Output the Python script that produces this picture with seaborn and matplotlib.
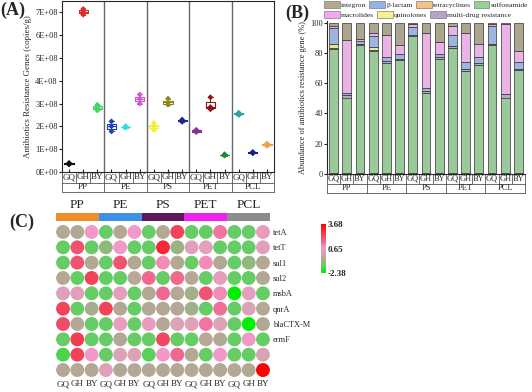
import numpy as np
import pandas as pd
import matplotlib
matplotlib.use('Agg')
import matplotlib.pyplot as plt
import matplotlib.transforms as mtransforms
from matplotlib.colors import LinearSegmentedColormap, Normalize
from matplotlib.patches import Patch
import seaborn as sns

# ---------------- data ----------------
groups = ['PP', 'PE', 'PS', 'PET', 'PCL']
sites = ['GQ', 'GH', 'BY']
samples = [f'{g} {s}' for g in groups for s in sites]

# (A) ARG abundance, three replicates per sample (copies/g)
arg_reps = {
    'PP GQ': [0.33e8, 0.36e8, 0.40e8],
    'PP GH': [6.90e8, 7.02e8, 7.15e8],
    'PP BY': [2.70e8, 2.82e8, 2.95e8],
    'PE GQ': [1.78e8, 2.00e8, 2.22e8],
    'PE GH': [1.94e8, 1.97e8, 2.01e8],
    'PE BY': [3.00e8, 3.20e8, 3.40e8],
    'PS GQ': [1.85e8, 2.00e8, 2.15e8],
    'PS GH': [2.95e8, 3.05e8, 3.22e8],
    'PS BY': [2.20e8, 2.25e8, 2.30e8],
    'PET GQ': [1.75e8, 1.80e8, 1.85e8],
    'PET GH': [2.75e8, 2.85e8, 3.28e8],
    'PET BY': [0.72e8, 0.75e8, 0.78e8],
    'PCL GQ': [2.50e8, 2.55e8, 2.60e8],
    'PCL GH': [0.82e8, 0.85e8, 0.88e8],
    'PCL BY': [1.15e8, 1.20e8, 1.25e8],
}
colors_a = ['#111111', '#e02828', '#44d468', '#1f3fb8', '#30dce6', '#d456d4',
            '#f2f030', '#8c8a18', '#1c2a86', '#86309a', '#8a1414', '#1e8a30',
            '#2aa4a4', '#1c1c8c', '#f0a040']

# (B) relative abundance (%) of ARG classes, bottom to top
tetracyclines = [0.5, 0.5, 0.5, 0.5, 0.5, 0.8, 0.5, 0.5, 0.8, 0.5, 0.5, 0.8, 0.5, 0.5, 0.8]
sulfonamide = [82.0, 50.0, 84.5, 80.5, 73.0, 74.2, 90.5, 53.0, 75.2, 83.0, 67.5, 71.2, 84.5, 50.0, 67.7]
multidrug = [1.0, 1.5, 1.0, 1.0, 1.0, 1.0, 0.5, 1.5, 1.0, 1.0, 1.0, 1.0, 1.0, 2.0, 1.0]
quinolones = [2.0, 0.0, 0.0, 2.0, 0.0, 0.0, 0.0, 0.0, 0.0, 0.0, 0.0, 0.0, 0.0, 0.0, 0.0]
beta_lactam = [11.0, 1.5, 1.5, 7.0, 2.5, 3.0, 5.5, 1.5, 2.0, 7.5, 5.0, 4.0, 12.0, 0.5, 4.5]
macrolides = [1.0, 35.0, 1.5, 2.0, 14.6, 6.0, 2.0, 36.5, 8.0, 6.0, 19.0, 9.0, 1.0, 46.0, 7.0]
integron = [2.5, 11.5, 11.0, 7.0, 8.4, 15.0, 1.0, 7.0, 13.0, 2.0, 7.0, 14.0, 1.0, 1.0, 19.0]

# (C) z-scored gene abundance
genes = ['tetA', 'tetT', 'sul1', 'sul2', 'msbA', 'qnrA', 'blaCTX-M', 'ermF', '', '']
heat = [
    [-0.6, -0.6, 0.8, -1.5, -0.6, 0.8, -1.5, -0.6, 2.4, -1.5, -1.5, 1.3, -1.5, -1.5, 0.6],
    [-1.5, 2.0, -1.5, -1.0, 0.8, -1.5, -1.5, 2.9, -0.9, 0.4, 0.5, -1.5, -1.5, -1.5, 0.4],
    [-1.5, 2.0, -0.6, -1.5, 2.0, -0.6, -1.5, 1.0, -0.6, -1.5, 1.0, -0.6, -1.5, -1.0, -0.6],
    [-0.6, -1.5, 2.4, -1.5, -1.5, -0.4, 1.5, -1.5, 1.5, -0.5, -1.5, 0.5, -1.5, -1.5, -0.6],
    [0.4, 0.4, -1.5, -1.5, 0.5, -1.5, -0.6, 1.5, -0.5, -0.8, 2.0, 1.0, -2.38, 0.5, -1.5],
    [2.4, -1.5, -0.7, 2.4, -0.6, -1.5, -0.6, -0.6, -0.6, -0.8, -1.5, 1.4, -1.5, 0.3, -0.6],
    [2.2, -0.5, -1.5, -1.5, 0.6, -1.5, 0.6, -0.6, 0.3, 0.4, 1.3, 0.3, -1.5, -2.38, -0.6],
    [-1.5, 2.5, -1.5, -1.5, -0.6, -1.5, -1.5, 2.3, -1.5, -1.5, -0.4, -0.6, -1.5, 0.7, -1.5],
    [-1.7, 2.4, 0.8, -1.5, 0.3, 0.3, -1.6, 0.8, 1.5, -0.6, -1.5, 0.8, -1.5, -1.5, 0.2],
    [-0.6, -0.6, -0.6, 0.4, -0.6, -0.6, -0.6, -0.6, -0.6, -0.6, -0.6, -0.6, -0.6, -0.6, 3.68],
]
group_colors = ['#f28c28', '#3d8fe8', '#5c1a5e', '#ee22ee', '#8c8c8c']

# ---------------- style ----------------
sns.set_style('ticks')
plt.rcParams['font.family'] = ['Liberation Serif', 'DejaVu Serif']
plt.rcParams['axes.linewidth'] = 0.8

W, H = 532, 392
fig = plt.figure(figsize=(W / 100, H / 100), dpi=100)


def px_axes(l, t, r, b):
    return fig.add_axes([l / W, 1 - b / H, (r - l) / W, (b - t) / H])


def category_table(ax, h1, h2, fs=6.5):
    """two-row label box under the x axis (sites / polymer groups)"""
    tr = mtransforms.blended_transform_factory(ax.transData, ax.transAxes)
    n = len(samples)
    kw = dict(color='#555555', lw=0.6, transform=tr, clip_on=False)
    for y in (0, -h1, -h1 - h2):
        ax.plot([-0.5, n - 0.5], [y, y], **kw)
    for i in range(n + 1):
        x = i - 0.5
        ax.plot([x, x], [0, -h1 - h2 if i % 3 == 0 else -h1], **kw)
    for i, s in enumerate(samples):
        ax.text(i, -h1 / 2, s.split()[1], transform=tr, ha='center', va='center', fontsize=fs)
    for j, g in enumerate(groups):
        ax.text(3 * j + 1, -h1 - h2 / 2, g, transform=tr, ha='center', va='center', fontsize=fs)


# ---------------- (A) ----------------
axA = px_axes(62, 1, 274, 172)
dfa = pd.DataFrame([(k, v) for k in samples for v in arg_reps[k]], columns=['sample', 'value'])
sns.boxplot(data=dfa, x='sample', y='value', hue='sample', order=samples, hue_order=samples,
            palette=colors_a, fill=False, width=0.65, linewidth=0.8, whis=(0, 100),
            legend=False, ax=axA)
sns.stripplot(data=dfa, x='sample', y='value', hue='sample', order=samples, hue_order=samples,
              palette=colors_a, marker='D', size=3, jitter=False, legend=False, ax=axA)
for x in (2.5, 5.5, 8.5, 11.5):
    axA.axvline(x, color='#666666', lw=1.0)
axA.set_xlim(-0.5, 14.5)
axA.set_ylim(0, 7.5e8)
axA.set_yticks(np.arange(0, 8) * 1e8)
axA.set_yticklabels(['0E+00'] + [f'{i}E+08' for i in range(1, 8)], fontsize=6)
axA.set_xticks(range(15))
axA.set_xticklabels([])
axA.tick_params(axis='x', direction='in', length=2)
axA.tick_params(axis='y', length=2, pad=1)
axA.set_xlabel('')
axA.set_ylabel('Antibiotics Resistance Genes (copies/g)', fontsize=6.4, labelpad=2)
category_table(axA, 11 / 171, 9 / 171)
fig.text(0.0, 1 - 10 / H, '(A)', fontsize=13, fontweight='bold', va='center')

# ---------------- (B) ----------------
axB = px_axes(327, 21, 525, 174)
layers = [
    ('tetracyclines', tetracyclines, '#f5c08a'),
    ('sulfonamide', sulfonamide, '#92d292'),
    ('multi-drug resistance', multidrug, '#b3a4cc'),
    ('quinolones', quinolones, '#f8f08a'),
    ('β-lactam', beta_lactam, '#92b2ea'),
    ('macrolides', macrolides, '#f4a8ee'),
    ('integron', integron, '#b1a98b'),
]
cum = np.zeros(len(samples))
for name, vals, col in layers:
    vals = np.asarray(vals, dtype=float)
    sns.barplot(x=samples, y=vals, order=samples, bottom=cum, color=col, width=0.68,
                edgecolor='#333333', linewidth=0.5, errorbar=None, ax=axB)
    cum += vals
axB.set_xlim(-0.5, 14.5)
axB.set_ylim(0, 101)
axB.set_yticks(range(0, 101, 20))
axB.tick_params(axis='y', labelsize=6, length=2, pad=1)
axB.set_xticks(range(15))
axB.set_xticklabels([])
axB.tick_params(axis='x', length=0)
axB.set_ylabel('Abundance of antibiotics resistance gene (%)', fontsize=6, labelpad=2)
sns.despine(ax=axB)
category_table(axB, 10 / 153, 9 / 153, fs=6)
lut = {n: c for n, _, c in layers}
leg_rows = [['integron', 'β-lactam', 'tetracyclines', 'sulfonamide'],
            ['macrolides', 'quinolones', 'multi-drug resistance']]
for r, names in enumerate(leg_rows):
    handles = [Patch(facecolor=lut[n], edgecolor='#666666', lw=0.4, label=n) for n in names]
    fig.legend(handles=handles, loc='upper left', bbox_to_anchor=(324 / W, 1 - (1 + 10 * r) / H),
               ncol=len(names), fontsize=5.4, frameon=False, handlelength=2.1, handleheight=1.0,
               columnspacing=0.35, handletextpad=0.2, borderaxespad=0, borderpad=0)
fig.text(285 / W, 1 - 13 / H, '(B)', fontsize=13, fontweight='bold', va='center')

# ---------------- (C) ----------------
cmap = LinearSegmentedColormap.from_list('gtp', [
    (0.0, '#00ee00'), (0.145, '#66cc66'), (0.294, '#b2a893'), (0.443, '#dca2b6'),
    (0.525, '#f398c8'), (0.64, '#f06890'), (0.772, '#f04860'), (1.0, '#ff0000')])
norm = Normalize(-2.38, 3.68)

axC = px_axes(55.9, 200, 270.1, 377.7)
heat_arr = np.array(heat)
dfc = pd.DataFrame({
    'col': np.tile(np.arange(15), 10),
    'row': np.repeat(np.arange(10), 15),
    'val': heat_arr.ravel(),
})
sns.scatterplot(data=dfc, x='col', y='row', hue='val', palette=cmap, hue_norm=norm,
                s=100, linewidth=0, legend=False, ax=axC)
axC.set_xlim(-0.5, 14.5)
axC.set_ylim(9.5, -2.085)
# polymer colour strip and labels
for j, g in enumerate(groups):
    axC.bar(3 * j + 1, -0.522, bottom=-0.715, width=3, color=group_colors[j], linewidth=0)
    axC.text(3 * j + 1, -1.78, g, ha='center', va='center', fontsize=9.5)
for sp in axC.spines.values():
    sp.set_visible(False)
axC.set_xticks(range(15))
axC.set_xticklabels([s.split()[1] for s in samples], fontsize=6.5)
axC.set_yticks(range(8))
axC.set_yticklabels(genes[:8], fontsize=6)
axC.yaxis.tick_right()
axC.tick_params(length=0, pad=2)
axC.set_xlabel('')
axC.set_ylabel('')
fig.text(9 / W, 1 - 222 / H, '(C)', fontsize=13, fontweight='bold', va='center')

cax = px_axes(321, 224, 326, 273)
sm = plt.cm.ScalarMappable(norm=norm, cmap=cmap)
cb = fig.colorbar(sm, cax=cax)
cb.outline.set_visible(False)
cb.set_ticks([-2.38, 0.65, 3.68])
cb.set_ticklabels(['-2.38', '0.65', '3.68'])
cb.ax.tick_params(labelsize=6.5, length=0, pad=1)
for t in cb.ax.get_yticklabels():
    t.set_fontweight('bold')

fig.savefig('out.png', dpi=100)
